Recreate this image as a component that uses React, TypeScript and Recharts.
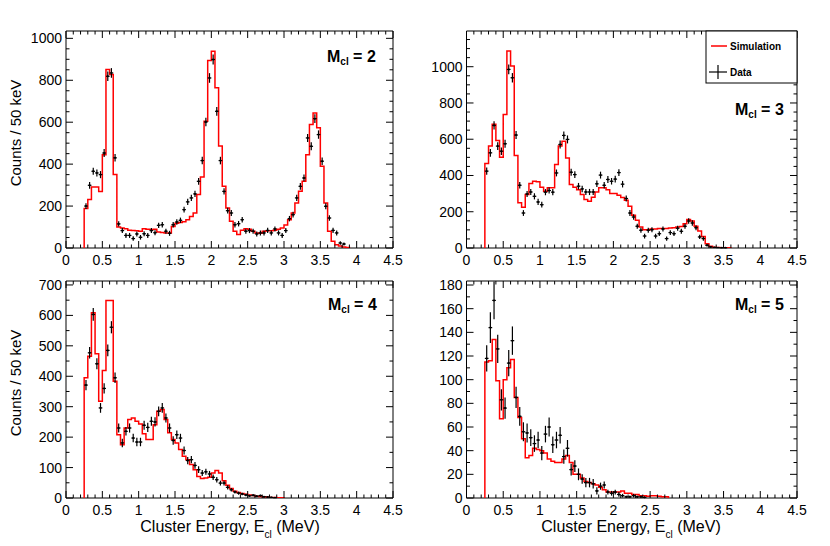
import React from 'react';
import { ComposedChart, Line, Scatter, ErrorBar, XAxis, YAxis, ReferenceArea } from 'recharts';

const FONT = '"Liberation Sans", Arial, Helvetica, sans-serif';

// histogram binning: 50 keV bins starting at 0.25 MeV
const BIN_START = 0.25;
const BIN_WIDTH = 0.05;

const xMajorTicks = [0, 0.5, 1, 1.5, 2, 2.5, 3, 3.5, 4, 4.5];

// M_cl = 2
const mcl2Sim = [
  188, 231, 291, 291, 270, 445, 851, 827, 350, 100,
  95, 92, 85, 84, 82, 80, 92, 90, 88, 90,
  76, 74, 72, 72, 103, 118, 122, 125, 135, 150,
  167, 255, 339, 605, 894, 939, 764, 486, 294, 191,
  127, 80, 64, 85, 92, 90, 80, 72, 70, 80,
  82, 82, 85, 90, 95, 110, 135, 167, 215, 271,
  318, 445, 589, 644, 573, 390, 215, 80, 32, 16,
  10, 5, 2,
];
const mcl2Data = [
  200, 299, 366, 358, 350, 453, 819, 835, 430, 115,
  83, 60, 60, 45, 67, 51, 68, 60, 83, 73,
  108, 111, 80, 70, 111, 124, 132, 183, 220, 239,
  258, 318, 417, 601, 811, 899, 652, 417, 270, 178,
  167, 111, 116, 135, 80, 83, 80, 67, 72, 72,
  84, 72, 91, 72, 60, 83, 140, 159, 239, 294,
  334, 525, 485, 617, 541, 414, 199, 143, 84, 72,
  24, 19,
];
const mcl2Err = [
  14, 16, 17, 17, 17, 19, 23, 23, 18, 13,
  12, 12, 12, 11, 12, 11, 12, 12, 12, 12,
  13, 13, 12, 12, 13, 13, 13, 14, 15, 15,
  15, 16, 18, 20, 23, 24, 21, 18, 15, 14,
  14, 13, 13, 13, 12, 12, 12, 12, 12, 12,
  12, 12, 12, 12, 12, 12, 13, 14, 15, 16,
  16, 19, 19, 21, 20, 18, 14, 13, 12, 12,
  8, 7,
];
const mcl2YTicks = [0, 200, 400, 600, 800, 1000];

// M_cl = 3
const mcl3Sim = [
  466, 562, 682, 593, 501, 737, 1087, 1004, 510, 249,
  225, 295, 356, 368, 365, 335, 313, 332, 332, 460,
  562, 589, 497, 350, 335, 322, 295, 267, 258, 280,
  309, 332, 332, 322, 300, 300, 291, 278, 263, 230,
  180, 153, 116, 101, 101, 105, 105, 107, 107, 108,
  110, 112, 116, 118, 134, 157, 149, 120, 94, 64,
  24, 9, 4, 3, 2, 1, 1,
];
const mcl3Data = [
  424, 525, 676, 562, 534, 575, 985, 939, 623, 346,
  193, 298, 309, 285, 254, 239, 308, 317, 308, 414,
  571, 621, 599, 418, 405, 341, 326, 309, 309, 309,
  354, 402, 346, 378, 368, 380, 416, 352, 273, 193,
  171, 120, 98, 66, 98, 101, 66, 79, 105, 52,
  85, 79, 109, 92, 120, 149, 138, 112, 61, 52,
  15, 6, 3, 2, 1, 1,
];
const mcl3Err = [
  20, 21, 23, 21, 21, 22, 27, 26, 22, 18,
  16, 17, 17, 17, 17, 16, 17, 17, 17, 19,
  22, 22, 22, 19, 19, 18, 18, 17, 17, 17,
  18, 19, 18, 19, 18, 19, 19, 18, 17, 16,
  15, 14, 14, 13, 14, 14, 13, 13, 14, 12,
  13, 13, 14, 14, 14, 15, 15, 14, 12, 12,
  7, 5, 3, 2, 2, 2,
];
const mcl3YTicks = [0, 200, 400, 600, 800, 1000];

// M_cl = 4
const mcl4Sim = [
  395, 466, 609, 474, 318, 419, 649, 649, 384, 208,
  175, 230, 258, 263, 252, 243, 211, 192, 192, 241,
  285, 291, 258, 214, 192, 181, 159, 137, 126, 110,
  93, 71, 64, 66, 68, 82, 90, 82, 57, 42,
  31, 22, 18, 15, 12, 10, 8, 6, 5, 4,
  3, 2, 2, 1, 1,
];
const mcl4Data = [
  371, 477, 603, 441, 296, 360, 485, 561, 395, 230,
  181, 219, 230, 197, 184, 184, 239, 232, 252, 250,
  285, 296, 263, 230, 189, 208, 197, 156, 123, 126,
  107, 93, 82, 86, 79, 68, 60, 49, 49, 35,
  27, 20, 16, 13, 10, 7, 9, 6, 8, 4,
  3, 2, 1,
];
const mcl4Err = [
  17, 19, 21, 18, 16, 17, 19, 20, 17, 15,
  14, 14, 15, 14, 14, 14, 15, 15, 15, 15,
  16, 16, 15, 15, 14, 14, 14, 13, 12, 12,
  11, 11, 10, 10, 10, 9, 9, 8, 8, 7,
  6, 5, 5, 4, 4, 3, 3, 3, 3, 2,
  2, 2, 1,
];
const mcl4YTicks = [0, 100, 200, 300, 400, 500, 600, 700];

// M_cl = 5
const mcl5Sim = [
  115, 116, 134, 99, 67, 100, 110, 117, 85, 68,
  50, 34, 36, 42, 41, 40, 38, 33, 31, 30,
  30, 33, 36, 30, 20, 20, 17, 14, 13, 12,
  11, 9, 7, 5, 5, 5, 5, 6, 4, 4,
  3, 3, 2, 2, 1.5, 2, 2, 1.5, 1, 1,
];
const mcl5Data = [
  118, 144, 167, 126, 83, 76, 114, 133, 85, 69,
  56, 55, 51, 46, 49, 38, 54, 60, 45, 49,
  53, 35, 42, 24, 27, 20, 16, 13, 13, 12,
  6, 10, 11, 5, 4, 5, 3, 2, 1, 1,
  2, 1, 1, 0.5,
];
const mcl5Err = [
  11, 13, 16, 12, 9, 9, 11, 12, 9, 8,
  8, 8, 7, 7, 7, 6, 7, 8, 7, 7,
  7, 6, 7, 5, 5, 5, 4, 4, 4, 4,
  3, 3, 3, 2, 2, 2, 2, 1.5, 1, 1,
  1.5, 1, 1, 0.7,
];
const mcl5YTicks = [0, 20, 40, 60, 80, 100, 120, 140, 160, 180];

const PLOT_H = 217;
const CHART_W = 430;

const isMajor = (v: number, majors: number[]) => majors.some((m) => Math.abs(m - v) < 1e-6);

function simRows(sim: number[]) {
  const rows: { x: number; sim: number }[] = [{ x: BIN_START, sim: 0 }];
  sim.forEach((v, i) => rows.push({ x: BIN_START + i * BIN_WIDTH, sim: v }));
  const end = BIN_START + sim.length * BIN_WIDTH;
  rows.push({ x: end, sim: sim[sim.length - 1] });
  rows.push({ x: end, sim: 0 });
  return rows;
}

function dataRows(data: number[], err: number[]) {
  return data.map((v, i) => ({
    x: BIN_START + (i + 0.5) * BIN_WIDTH,
    y: v,
    err: err[i],
    xerr: BIN_WIDTH / 2,
  }));
}

interface PanelProps {
  left: number;
  top: number;
  plotLeft: number;
  plotRight: number;
  sim: number[];
  data: number[];
  err: number[];
  yMax: number;
  yMajor: number[];
  yMinorStep: number;
}

const Panel: React.FC<PanelProps> = ({ left, top, plotLeft, plotRight, sim, data, err, yMax, yMajor, yMinorStep }) => {
  const plotW = plotRight - plotLeft;
  const xTicks: number[] = [];
  for (let k = 0; k <= 45; k++) xTicks.push(k / 10);
  const yTicks: number[] = [];
  for (let k = 0; k * yMinorStep <= yMax; k++) yTicks.push(k * yMinorStep);

  const xTick = (p: any) => {
    const v = p.payload.value;
    const major = isMajor(v, xMajorTicks);
    const len = major ? 7 : 3.5;
    return (
      <g>
        <line x1={p.x} y1={p.y} x2={p.x} y2={p.y - len} stroke="#000" strokeWidth={1} />
        <line x1={p.x} y1={p.y - PLOT_H} x2={p.x} y2={p.y - PLOT_H + len} stroke="#000" strokeWidth={1} />
        {major && (
          <text x={p.x} y={p.y + 17} textAnchor="middle" fontSize={14} fontFamily={FONT} fill="#000">
            {String(v)}
          </text>
        )}
      </g>
    );
  };

  const yTick = (p: any) => {
    const v = p.payload.value;
    const major = isMajor(v, yMajor);
    const len = major ? 7 : 3.5;
    return (
      <g>
        <line x1={p.x} y1={p.y} x2={p.x + len} y2={p.y} stroke="#000" strokeWidth={1} />
        <line x1={p.x + plotW} y1={p.y} x2={p.x + plotW - len} y2={p.y} stroke="#000" strokeWidth={1} />
        {major && (
          <text x={p.x - 4} y={p.y + 5} textAnchor="end" fontSize={14} fontFamily={FONT} fill="#000">
            {String(v)}
          </text>
        )}
      </g>
    );
  };

  return (
    <div style={{ position: 'absolute', left, top }}>
      <ComposedChart
        width={CHART_W}
        height={280}
        data={simRows(sim)}
        margin={{ top: 31, left: plotLeft - left - 60, right: CHART_W - (plotRight - left), bottom: 12 }}
      >
        <XAxis
          dataKey="x"
          type="number"
          domain={[0, 4.5]}
          ticks={xTicks}
          interval={0}
          allowDataOverflow
          axisLine={false}
          tickLine={false}
          tickSize={0}
          tickMargin={0}
          height={20}
          tick={xTick}
        />
        <YAxis
          type="number"
          domain={[0, yMax]}
          ticks={yTicks}
          interval={0}
          allowDataOverflow
          axisLine={false}
          tickLine={false}
          tickSize={0}
          tickMargin={0}
          width={60}
          tick={yTick}
        />
        <Line
          dataKey="sim"
          type="stepAfter"
          stroke="#ff0000"
          strokeWidth={1.5}
          dot={false}
          activeDot={false}
          isAnimationActive={false}
        />
        <Scatter
          data={dataRows(data, err)}
          dataKey="y"
          isAnimationActive={false}
          shape={(s: any) => <circle cx={s.cx} cy={s.cy} r={1} fill="#000" />}
        >
          <ErrorBar dataKey="err" direction="y" width={0} stroke="#000" strokeWidth={1.2} isAnimationActive={false} />
          <ErrorBar dataKey="xerr" direction="x" width={0} stroke="#000" strokeWidth={1.2} isAnimationActive={false} />
        </Scatter>
        <ReferenceArea x1={0} x2={4.5} y1={0} y2={yMax} fill="none" stroke="#000" strokeWidth={1} ifOverflow="visible" />
      </ComposedChart>
    </div>
  );
};

const McLabel: React.FC<{ x: number; y: number; n: number }> = ({ x, y, n }) => (
  <text x={x} y={y} fontSize={16} fontWeight="bold" fontFamily={FONT} fill="#000">
    M
    <tspan fontSize={10} dy={3}>cl</tspan>
    <tspan dy={-3}>{` = ${n}`}</tspan>
  </text>
);

const XTitle: React.FC<{ cx: number }> = ({ cx }) => (
  <text x={cx} y={532} textAnchor="middle" fontSize={16} fontFamily={FONT} fill="#000">
    Cluster Energy, E
    <tspan fontSize={10} dy={6}>cl</tspan>
    <tspan dy={-6}> (MeV)</tspan>
  </text>
);

const YTitle: React.FC<{ cy: number }> = ({ cy }) => (
  <text transform={`translate(21,${cy}) rotate(-90)`} textAnchor="middle" fontSize={15} fontFamily={FONT} fill="#000">
    Counts / 50 keV
  </text>
);

export default function App() {
  return (
    <div style={{ position: 'absolute', left: 0, top: 0, width: 830, height: 546, background: '#fff', fontFamily: FONT, overflow: 'hidden' }}>
      <Panel left={0} top={0} plotLeft={66} plotRight={393} sim={mcl2Sim} data={mcl2Data} err={mcl2Err} yMax={1035} yMajor={mcl2YTicks} yMinorStep={50} />
      <Panel left={400} top={0} plotLeft={466.5} plotRight={797} sim={mcl3Sim} data={mcl3Data} err={mcl3Err} yMax={1197} yMajor={mcl3YTicks} yMinorStep={50} />
      <Panel left={0} top={250} plotLeft={66} plotRight={393} sim={mcl4Sim} data={mcl4Data} err={mcl4Err} yMax={713} yMajor={mcl4YTicks} yMinorStep={50} />
      <Panel left={400} top={250} plotLeft={466.5} plotRight={797} sim={mcl5Sim} data={mcl5Data} err={mcl5Err} yMax={183.4} yMajor={mcl5YTicks} yMinorStep={10} />
      <svg width={830} height={546} style={{ position: 'absolute', left: 0, top: 0, pointerEvents: 'none' }}>
        <YTitle cy={133} />
        <YTitle cy={383} />
        <XTitle cx={230} />
        <XTitle cx={631} />
        <McLabel x={327} y={62} n={2} />
        <McLabel x={735} y={115} n={3} />
        <McLabel x={328} y={310} n={4} />
        <McLabel x={735} y={310} n={5} />
        <g>
          <rect x={706} y={31} width={91} height={52} fill="#fff" stroke="#000" strokeWidth={1} />
          <line x1={711} y1={46} x2={727} y2={46} stroke="#ff0000" strokeWidth={1.5} />
          <text x={730} y={50} fontSize={10} fontWeight="bold" fontFamily={FONT} fill="#000">Simulation</text>
          <line x1={709} y1={72} x2={727} y2={72} stroke="#000" strokeWidth={1.2} />
          <line x1={718} y1={65} x2={718} y2={79} stroke="#000" strokeWidth={1.2} />
          <text x={730} y={76} fontSize={10} fontWeight="bold" fontFamily={FONT} fill="#000">Data</text>
        </g>
      </svg>
    </div>
  );
}
